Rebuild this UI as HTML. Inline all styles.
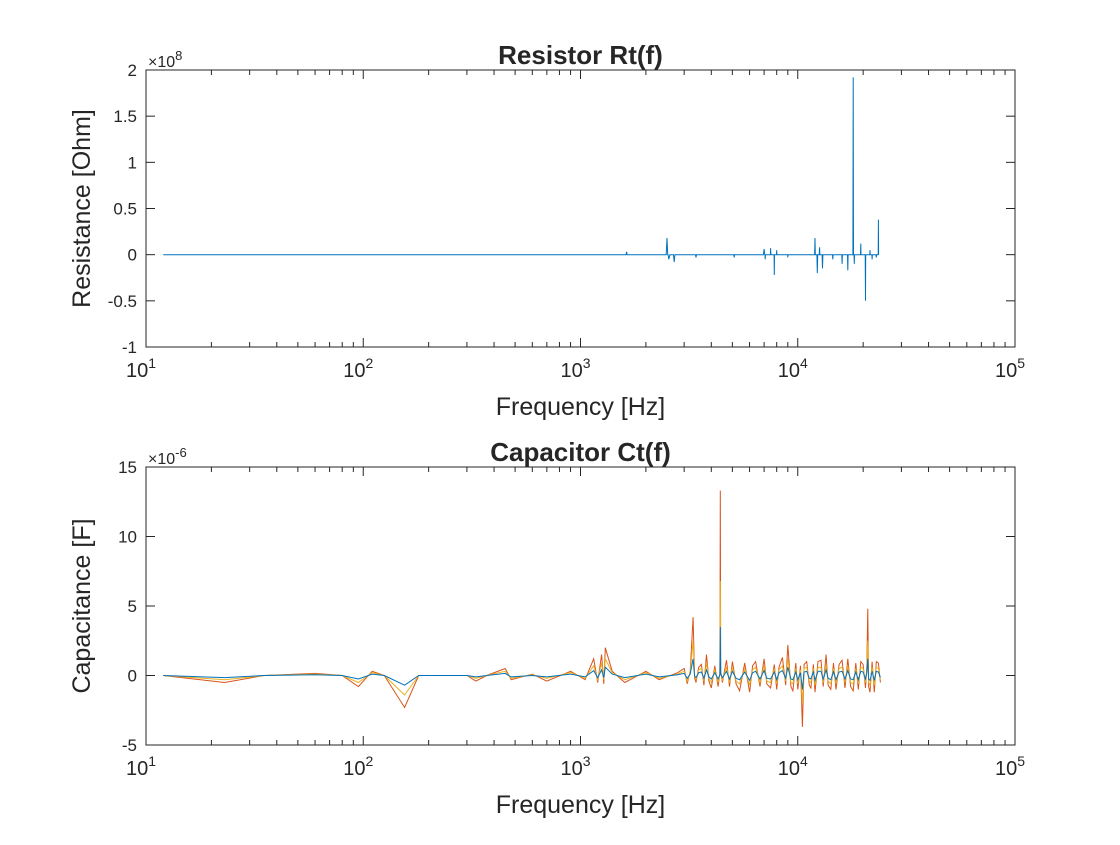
<!DOCTYPE html>
<html><head><meta charset="utf-8"><style>
body{margin:0;background:#fff}
svg text{font-family:"Liberation Sans",sans-serif;fill:#262626}
</style></head><body>
<svg id="c" width="1120" height="840" viewBox="0 0 1120 840"></svg>
<script>
const resFreq=[12,1620,1630,1640,2480,2500,2520,2530,2550,2580,2680,2700,2720,3380,3400,3420,5080,5100,5120,6950,7000,7050,7065,7080,7100,7480,7500,7520,7780,7800,7820,7980,8000,8020,8980,9000,9020,11950,12000,12050,12250,12300,12350,12550,12600,12650,12950,13000,13050,14450,14500,14550,15950,16000,16050,16950,17000,17050,17950,18000,18050,18150,18200,18250,19450,19500,19550,20450,20500,20550,21450,21500,21550,21950,22000,22050,22900,23000,23100,23450,23500,23550];
const resVal=[0,0,0.03,0,0,0.18,0,0,-0.05,0,0,-0.08,0,0,-0.03,0,0,-0.03,0,0,0.06,0,0,-0.05,0,0,0.07,0,0,-0.22,0,0,0.05,0,0,-0.03,0,0,0.18,0,0,-0.2,0,0,0.08,0,0,-0.15,0,0,-0.05,0,0,-0.1,0,0,-0.17,0,0,1.92,0,0,-0.1,0,0,0.12,0,0,-0.5,0,0,0.05,0,0,-0.05,0,0,-0.03,0,0,0.38,0];
const capFreq=[12,23,35,60,80,95,110,125,155,180,300,330,370,450,480,600,700,900,1050,1150,1200,1250,1280,1300,1400,1600,2000,2300,2800,3000,3100,3200,3300,3350,3400,3500,3600,3700,3800,3900,4000,4150,4300,4380,4400,4420,4500,4700,4850,5000,5200,5400,5700,6000,6200,6400,6700,7000,7200,7500,7800,8000,8200,8500,8800,9000,9300,9500,9800,10000,10300,10500,10700,11000,11300,11500,11800,12000,12400,12800,13100,13500,13800,14200,14600,15000,15500,16000,16500,17000,17500,18000,18500,19000,19500,20000,20500,20800,21000,21200,21500,22000,22500,23000,23500,24000];
const capOrange=[0,-0.5,0,0.15,0,-0.8,0.3,0,-2.3,0,0,-0.4,0,0.5,-0.3,0.1,-0.4,0.3,-0.3,1.2,-0.5,1.5,-0.6,2.0,0.3,-0.5,0.3,-0.3,0.2,0.5,-0.6,0.3,4.2,-0.2,-0.5,0.6,0.8,-0.7,1.5,-0.4,-0.9,0.7,-0.8,0.2,13.3,0.3,-0.5,1.1,-0.8,1.0,-0.6,-1.1,0.9,-1.2,0.7,1.0,-0.8,1.2,-0.6,-0.9,0.8,-1.0,0.6,1.3,-0.7,2.2,-0.8,-1.1,0.9,-1.0,0.7,-3.7,0.8,1.0,-0.7,-0.9,0.8,-1.2,1.0,1.1,-0.8,1.5,-0.7,-1.0,0.9,-1.0,0.8,1.1,-0.9,1.2,-0.8,-1.1,0.9,-1.0,1.0,0.8,-0.9,0.6,4.8,-0.8,-1.2,1.0,-1.2,1.0,0.9,-0.5];
const capYellow=[0,-0.3,0,0.1,0,-0.5,0.2,0,-1.4,0,0,-0.2,0,0.3,-0.2,0.05,-0.2,0.2,-0.2,0.7,-0.3,0.9,-0.3,1.2,0.2,-0.3,0.2,-0.2,0.1,0.3,-0.4,0.2,2.5,-0.1,-0.3,0.4,0.5,-0.4,0.9,-0.2,-0.5,0.4,-0.5,0.1,6.8,0.2,-0.3,0.6,-0.5,0.6,-0.4,-0.6,0.5,-0.7,0.4,0.6,-0.5,0.7,-0.4,-0.5,0.5,-0.6,0.4,0.7,-0.4,1.2,-0.5,-0.6,0.5,-0.6,0.4,-2.0,0.5,0.6,-0.4,-0.5,0.5,-0.7,0.6,0.6,-0.5,0.8,-0.4,-0.6,0.5,-0.6,0.5,0.6,-0.5,0.7,-0.5,-0.6,0.5,-0.6,0.6,0.5,-0.5,0.4,2.5,-0.5,-0.7,0.6,-0.7,0.6,0.5,-0.3];
const capBlue=[0,-0.15,0,0.05,0,-0.25,0.1,0,-0.7,0,0,-0.1,0,0.15,-0.1,0,-0.1,0.1,-0.1,0.35,-0.15,0.4,-0.15,0.6,0.1,-0.15,0.1,-0.1,0.05,0.15,-0.2,0.1,1.2,-0.05,-0.15,0.2,0.25,-0.2,0.4,-0.1,-0.25,0.2,-0.25,0.05,3.5,0.1,-0.15,0.3,-0.25,0.3,-0.2,-0.3,0.25,-0.35,0.2,0.3,-0.25,0.35,-0.2,-0.25,0.25,-0.3,0.2,0.35,-0.2,0.6,-0.25,-0.3,0.25,-0.3,0.2,-1.0,0.25,0.3,-0.2,-0.25,0.25,-0.35,0.3,0.3,-0.25,0.4,-0.2,-0.3,0.25,-0.3,0.25,0.3,-0.25,0.35,-0.25,-0.3,0.25,-0.3,0.3,0.25,-0.25,0.2,1.2,-0.25,-0.35,0.3,-0.35,0.3,0.25,-0.15];
const resTicks=[2,1.5,1,0.5,0,-0.5,-1];
const resTickLabels=["2","1.5","1","0.5","0","-0.5","-1"];
const capTicks=[15,10,5,0,-5];
const capTickLabels=["15","10","5","0","-5"];
const xDecades=[1,2,3,4,5];

const svg=document.getElementById('c');
const NS='http://www.w3.org/2000/svg';
function mk(tag,attrs,parent){const e=document.createElementNS(NS,tag);for(const k in attrs)e.setAttribute(k,attrs[k]);(parent||svg).appendChild(e);return e;}
const L=146,R=1015;
function xs(f){return L+(Math.log10(f)-1)/4*(R-L);}

function panel(name,top,bot,ymin,ymax,ticks,labels,title,ylabel,expo,series){
  const g=mk('g',{});
  
  
  const ys=v=>bot-(v-ymin)/(ymax-ymin)*(bot-top);
  mk('rect',{x:L,y:top,width:R-L,height:bot-top,fill:'#fff'},g);
  series.forEach(s=>{
    const d=s.f.map((f,i)=>(i?'L':'M')+xs(f).toFixed(1)+','+ys(s.v[i]).toFixed(1)).join('');
    const p=mk('path',{d:d,fill:'none',stroke:s.c,'stroke-width':1},g);
    
    
  });
  const ax=mk('rect',{x:L,y:top,width:R-L,height:bot-top,fill:'none',stroke:'#262626','stroke-width':1},g);
  
  
  xDecades.forEach(d=>{
    const x=xs(Math.pow(10,d));
    mk('line',{x1:x,x2:x,y1:bot,y2:bot-9,stroke:'#262626'},g);
    mk('line',{x1:x,x2:x,y1:top,y2:top+9,stroke:'#262626'},g);
    const t=mk('text',{x:x-5,y:bot+30,'font-size':20,'text-anchor':'middle'},g);
    t.textContent='10';
    
    
    const s=mk('tspan',{dy:-9,'font-size':14},t);s.textContent=String(d);
    if(d<5)for(let m=2;m<10;m++){const xm=xs(m*Math.pow(10,d));
      mk('line',{x1:xm,x2:xm,y1:bot,y2:bot-5,stroke:'#262626'},g);
      mk('line',{x1:xm,x2:xm,y1:top,y2:top+5,stroke:'#262626'},g);}
  });
  ticks.forEach((v,i)=>{
    const y=ys(v);
    mk('line',{x1:L,x2:L+9,y1:y,y2:y,stroke:'#262626'},g);
    mk('line',{x1:R,x2:R-9,y1:y,y2:y,stroke:'#262626'},g);
    const t=mk('text',{x:L-9,y:y+6,'font-size':17,'text-anchor':'end'},g);
    t.textContent=labels[i];
    
    
  });
  const e=mk('text',{x:L+2,y:top-3,'font-size':16},g);
  e.textContent='×10';
  
  
  const es=mk('tspan',{dy:-7,'font-size':13},e);es.textContent=expo;
  const tt=mk('text',{x:(L+R)/2,y:top-6,'font-size':26,'font-weight':'bold','text-anchor':'middle',fill:'#000'},g);
  tt.textContent=title;
  
  
  const xl=mk('text',{x:(L+R)/2,y:bot+68,'font-size':25,'text-anchor':'middle'},g);
  xl.textContent='Frequency [Hz]';
  
  
  const yl=mk('text',{x:0,y:0,'font-size':25,'text-anchor':'middle',transform:`translate(${L-56},${(top+bot)/2}) rotate(-90)`},g);
  yl.textContent=ylabel;
  
  
}
panel('resistor-chart',70,347,-1,2,resTicks,resTickLabels,'Resistor Rt(f)','Resistance [Ohm]','8',
  [{f:resFreq,v:resVal,c:'#0072bd',n:'resistance-line'}]);
panel('capacitor-chart',467,745,-5,15,capTicks,capTickLabels,'Capacitor Ct(f)','Capacitance [F]','-6',
  [{f:capFreq,v:capOrange,c:'#d95319',n:'capacitance-series-1'},
   {f:capFreq,v:capYellow,c:'#edb120',n:'capacitance-series-2'},
   {f:capFreq,v:capBlue,c:'#0072bd',n:'capacitance-series-3'}]);
</script>
</body></html>
